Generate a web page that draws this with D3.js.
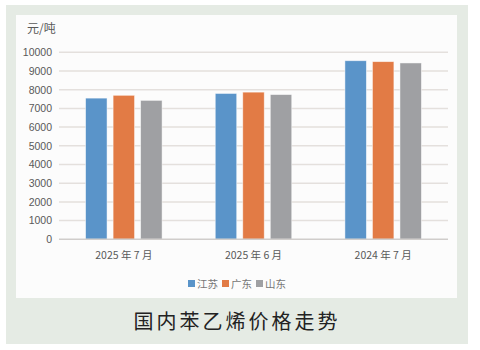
<!DOCTYPE html>
<html><head><meta charset="utf-8">
<script src="https://cdn.jsdelivr.net/npm/d3@7"></script>
<style>
html,body{margin:0;padding:0;background:#ffffff;}
svg{display:block;}
text{font-family:"Noto Sans CJK SC","Liberation Sans",sans-serif;}
</style></head>
<body>
<svg id="c" width="480" height="350"></svg>
<script>
const categories = ["2025 年 7 月", "2025 年 6 月", "2024 年 7 月"];
const seriesNames = ["江苏", "广东", "山东"];
const jiangsu = [7550, 7800, 9550];
const guangdong = [7700, 7870, 9500];
const shandong = [7430, 7740, 9430];
const yTicks = [0,1000,2000,3000,4000,5000,6000,7000,8000,9000,10000];
const colors = ["#5a94c9", "#e27b45", "#9fa0a3"];
const unitLabel = "元/吨";
const title = "国内苯乙烯价格走势";

(function(){
const seriesValues = [jiangsu, guangdong, shandong];
const svg = d3.select("#c");

svg.append("rect").attr("x",6).attr("y",5).attr("width",462).attr("height",339).attr("fill","#e5ebe4");
svg.append("rect").attr("x",16).attr("y",15).attr("width",441).attr("height",283).attr("fill","#fcfcfc");

const pLeft = 59, pRight = 448, pTop = 52.3, pBottom = 239.3;
const y = d3.scaleLinear().domain([0,10000]).range([pBottom, pTop]);
const x0 = d3.scaleBand().domain(categories).range([pLeft,pRight]).paddingInner(0.41).paddingOuter(0.205);
const x1 = d3.scaleBand().domain(seriesNames).range([0, x0.bandwidth()]).paddingInner(0.22);

svg.append("g").selectAll("line").data(yTicks.filter(d=>d>0)).join("line")
  .attr("x1",pLeft).attr("x2",pRight)
  .attr("y1",d=>y(d)).attr("y2",d=>y(d))
  .attr("stroke","#e4e0dd").attr("stroke-width",1.5);

const yAxis = d3.axisLeft(y).tickValues(yTicks).tickFormat(d3.format("d")).tickSize(0).tickPadding(7);
const ga = svg.append("g").attr("transform",`translate(${pLeft},0)`).call(yAxis);
ga.select(".domain").remove();
ga.selectAll("text").style("font-size","10.5px").attr("fill","#595959")
  .style("font-family","'Liberation Sans',sans-serif");

const groups = svg.append("g").selectAll("g").data(categories).join("g")
  .attr("transform",d=>`translate(${x0(d)},0)`);
groups.selectAll("rect").data((c,i)=>seriesNames.map((s,j)=>({s,j,v:seriesValues[j][i]}))).join("rect")
  .attr("x",d=>x1(d.s)).attr("width",x1.bandwidth())
  .attr("y",d=>y(d.v)).attr("height",d=>y(0)-y(d.v))
  .attr("fill",d=>colors[d.j])
  .attr("stroke","#ffffff").attr("stroke-opacity",0.6).attr("stroke-width",0.8);

svg.append("line").attr("x1",pLeft).attr("x2",pRight).attr("y1",y(0)).attr("y2",y(0))
  .attr("stroke","#d0cdcb").attr("stroke-width",1.5);

const xAxis = d3.axisBottom(x0).tickSize(0).tickPadding(12);
const gx = svg.append("g").attr("transform",`translate(0,${y(0)})`).call(xAxis);
gx.select(".domain").remove();
gx.selectAll("text").style("font-size","10.5px").attr("fill","#595959");

svg.append("text").attr("x",27).attr("y",33).style("font-size","12px").attr("fill","#595959").text(unitLabel);

const legend = svg.append("g").attr("transform","translate(188,284)");
const lx = [0, 34, 68];
seriesNames.forEach((s,i)=>{
  const g = legend.append("g").attr("transform",`translate(${lx[i]},0)`);
  g.append("rect").attr("x",0).attr("y",-4).attr("width",7).attr("height",7).attr("fill",colors[i]);
  g.append("text").attr("x",9).attr("y",4).style("font-size","10.5px").attr("fill","#777").text(s);
});

svg.append("text").attr("x",237).attr("y",329).attr("text-anchor","middle")
  .style("font-size","20px").attr("letter-spacing","3px").attr("fill","#222").text(title);
})();
</script>
</body></html>
